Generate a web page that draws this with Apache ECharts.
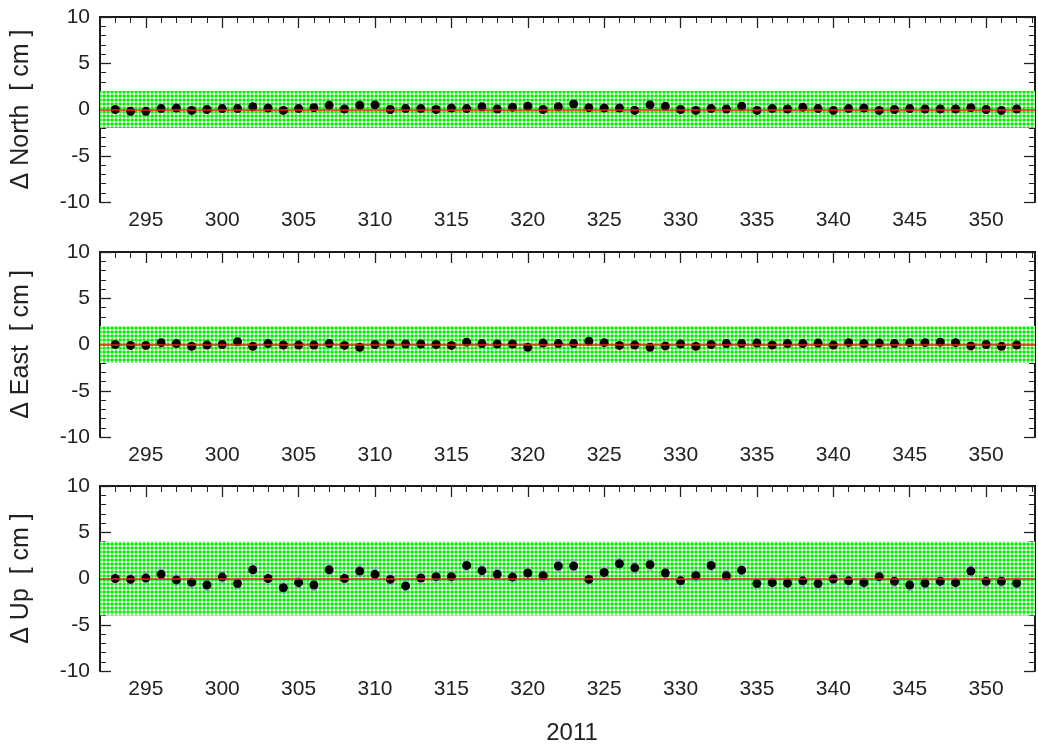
<!DOCTYPE html>
<html><head><meta charset="utf-8">
<script src="https://cdn.jsdelivr.net/npm/echarts@6/dist/echarts.min.js"></script>
<style>html,body{margin:0;padding:0;background:#fff}#c{width:1038px;height:746px}</style>
</head><body><div id="c"></div>
<script>
const days = [293,294,295,296,297,298,299,300,301,302,303,304,305,306,307,308,309,310,311,312,
  313,314,315,316,317,318,319,320,321,322,323,324,325,326,327,328,329,330,331,332,
  333,334,335,336,337,338,339,340,341,342,343,344,345,346,347,348,349,350,351,352];
const north = [0,-0.2,-0.2,0.1,0.15,-0.1,0,0.1,0.1,0.3,0.15,-0.1,0.1,0.2,0.45,0.05,0.45,0.5,0,0.1,
  0.1,0,0.15,0.1,0.3,0.05,0.25,0.35,0,0.3,0.6,0.2,0.15,0.15,-0.1,0.5,0.35,0,-0.1,0.1,
  0.05,0.35,-0.1,0.1,0.05,0.25,0.1,-0.1,0.1,0.15,-0.1,0,0.1,0.05,0.05,0.05,0.2,0,-0.1,0.05];
const east = [0,-0.1,-0.1,0.2,0.1,-0.2,-0.05,0,0.3,-0.2,0.1,-0.05,-0.05,-0.05,0.1,-0.1,-0.3,0,0.05,0.05,
  0.05,0,-0.1,0.25,0.1,0.05,0.05,-0.3,0.15,0.1,0.1,0.35,0.2,-0.1,-0.05,-0.3,-0.15,0.05,-0.2,0,
  0.1,0.1,0.15,-0.05,0.1,0.1,0.15,-0.05,0.2,0.1,0.15,0.1,0.2,0.2,0.25,0.2,-0.15,0,-0.2,-0.05];
const up = [0,-0.1,0.05,0.45,-0.15,-0.4,-0.7,0.15,-0.55,0.95,0,-1.0,-0.45,-0.7,0.95,0,0.8,0.45,-0.1,-0.8,
  0.05,0.2,0.2,1.4,0.85,0.45,0.15,0.6,0.3,1.35,1.35,-0.1,0.65,1.6,1.15,1.5,0.6,-0.25,0.3,1.4,
  0.3,0.9,-0.55,-0.45,-0.5,-0.25,-0.55,-0.05,-0.25,-0.45,0.2,-0.3,-0.7,-0.5,-0.3,-0.45,0.8,-0.3,-0.3,-0.5];
const panelNames = ['\u0394 North  [ cm ]', '\u0394 East  [ cm ]', '\u0394 Up  [ cm ]'];
const bandHalf = [2, 2, 4];
const sigma = [0.35, 0.3, 0.6];
const xMajorTicks = [295,300,305,310,315,320,325,330,335,340,345,350];
const xMinorTicks = [292,293,294,295,296,297,298,299,300,301,302,303,304,305,306,307,308,309,310,311,312,
  313,314,315,316,317,318,319,320,321,322,323,324,325,326,327,328,329,330,331,332,
  333,334,335,336,337,338,339,340,341,342,343,344,345,346,347,348,349,350,351,352,353];
const xLabel = '2011';

const panelValues = [north, east, up];
const gridTops = [17, 252, 486];
const FONT = '"Liberation Sans", Arial, sans-serif';

// hatched green pattern (green mesh with small round white holes)
const tile = document.createElement('canvas');
tile.width = 4; tile.height = 4;
const tc = tile.getContext('2d');
tc.fillStyle = '#00f000'; tc.fillRect(0,0,4,4);
tc.fillStyle = 'rgba(255,255,255,0.45)';
tc.fillRect(1,0,2,1); tc.fillRect(1,3,2,1); tc.fillRect(0,1,1,2); tc.fillRect(3,1,1,2);
tc.fillStyle = '#ffffff'; tc.fillRect(1,1,2,2);

const chart = echarts.init(document.getElementById('c'), null, {renderer: 'canvas'});
const grid = [], xAxis = [], yAxis = [], series = [];
const axisLine = {show: true, lineStyle: {color: '#1a1a1a', width: 2}};
const tickColor = '#222';

panelValues.forEach((vals, p) => {
  grid.push({left: 100, right: 3, top: gridTops[p], height: 185, containLabel: false});
  const base = {type: 'value', gridIndex: p, min: 292, max: 353.2, axisLine: axisLine,
    splitLine: {show: false}};
  const xi = xAxis.length;
  xAxis.push(Object.assign({}, base, {position: 'bottom',
    axisTick: {show: true, inside: true, length: 11, customValues: xMajorTicks, lineStyle: {color: tickColor, width: 1.3}},
    axisLabel: {show: true, customValues: xMajorTicks, margin: 8, fontSize: 21, fontFamily: FONT, color: '#222'}}));
  xAxis.push(Object.assign({}, base, {position: 'bottom',
    axisTick: {show: true, inside: true, length: 6, customValues: xMinorTicks, lineStyle: {color: tickColor, width: 1}},
    axisLabel: {show: false}}));
  xAxis.push(Object.assign({}, base, {position: 'top',
    axisTick: {show: true, inside: true, length: 11, customValues: xMajorTicks, lineStyle: {color: tickColor, width: 1.3}},
    axisLabel: {show: false}}));
  xAxis.push(Object.assign({}, base, {position: 'top',
    axisTick: {show: true, inside: true, length: 6, customValues: xMinorTicks, lineStyle: {color: tickColor, width: 1}},
    axisLabel: {show: false}}));
  const yi = yAxis.length;
  const ybase = {type: 'value', gridIndex: p, min: -10, max: 10, interval: 5, axisLine: axisLine,
    splitLine: {show: false},
    axisTick: {show: true, inside: true, length: 11, lineStyle: {color: tickColor, width: 1.3}},
    minorTick: {show: true, splitNumber: 5, length: 6, lineStyle: {color: tickColor, width: 1}}};
  yAxis.push(Object.assign({}, ybase, {position: 'left',
    name: panelNames[p], nameLocation: 'middle', nameRotate: 90, nameGap: 66,
    nameTextStyle: {fontSize: 25, fontFamily: FONT, color: '#222'},
    axisLabel: {show: true, margin: 10, fontSize: 21, fontFamily: FONT, color: '#222'}}));
  yAxis.push(Object.assign({}, ybase, {position: 'right', axisLabel: {show: false}}));

  series.push({type: 'line', xAxisIndex: xi, yAxisIndex: yi, data: [], z: 1, silent: true,
    markArea: {silent: true, itemStyle: {color: {image: tile, repeat: 'repeat'}, opacity: 1},
      label: {show: false},
      data: [[{yAxis: -bandHalf[p]}, {yAxis: bandHalf[p]}]]},
    markLine: {silent: true, symbol: 'none', label: {show: false}, animation: false,
      lineStyle: {color: '#e8200f', width: 1.5, type: 'solid'},
      data: [{yAxis: 0}]}});
  series.push({type: 'custom', xAxisIndex: xi, yAxisIndex: yi, z: 2, silent: true,
    data: days.map((d, i) => [d, vals[i], sigma[p]]),
    renderItem: (params, api) => {
      const x = api.value(0), y = api.value(1), s = api.value(2);
      const t = api.coord([x, y + s]), b = api.coord([x, y - s]);
      const w = 3;
      const st = {stroke: '#7f9fe0', lineWidth: 1, opacity: 0.8};
      return {type: 'group', children: [
        {type: 'line', shape: {x1: t[0], y1: t[1], x2: b[0], y2: b[1]}, style: st},
        {type: 'line', shape: {x1: t[0] - w, y1: t[1], x2: t[0] + w, y2: t[1]}, style: st},
        {type: 'line', shape: {x1: b[0] - w, y1: b[1], x2: b[0] + w, y2: b[1]}, style: st}
      ]};
    }});
  series.push({type: 'scatter', xAxisIndex: xi, yAxisIndex: yi, z: 3, symbol: 'circle', symbolSize: 9,
    itemStyle: {color: '#000', opacity: 1}, data: days.map((d, i) => [d, vals[i]])});
});

chart.setOption({
  animation: false,
  backgroundColor: '#fff',
  grid, xAxis, yAxis, series,
  graphic: [{type: 'text', x: 572, y: 733, style: {text: xLabel, font: '24px ' + FONT, fill: '#222',
    align: 'center', verticalAlign: 'middle'}}]
});
</script></body></html>
